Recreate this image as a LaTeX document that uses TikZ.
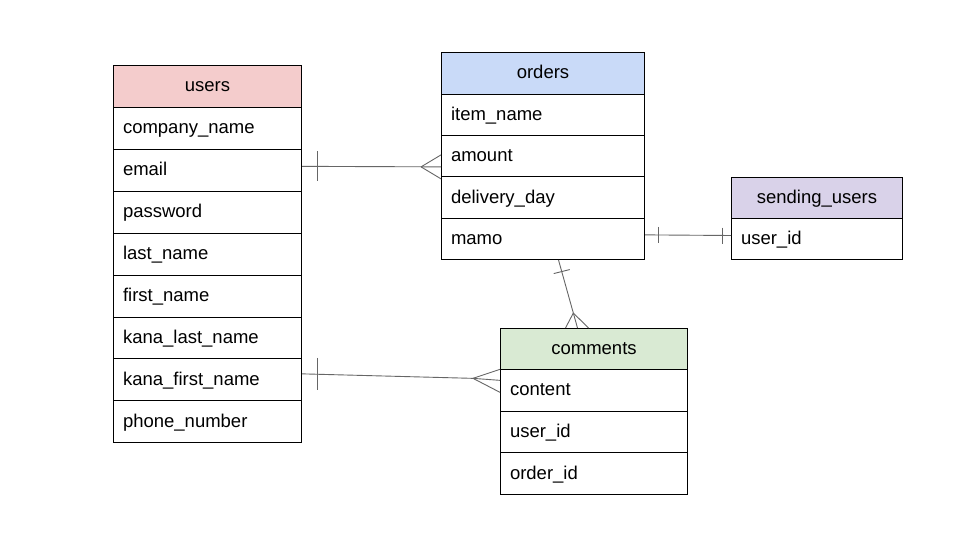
\documentclass[tikz,border=0pt]{standalone}
\usepackage{fontspec}
\setmainfont{Liberation Sans}
\usetikzlibrary{calc}
\definecolor{hred}{HTML}{F4CCCC}
\definecolor{hblue}{HTML}{C9DAF8}
\definecolor{hpurple}{HTML}{D9D2E9}
\definecolor{hgreen}{HTML}{D9EAD3}
\definecolor{conncol}{HTML}{666666}
\begin{document}
\begin{tikzpicture}[x=1pt,y=-1pt,
  font=\fontsize{18.5}{22}\selectfont,
  hdr/.style={draw=black,line width=1pt,anchor=north west,minimum height=#1,inner sep=0pt,text height=14pt,text depth=3pt},
  cell/.style={draw=black,line width=1pt,anchor=north west,minimum height=#1,inner xsep=9.5pt,inner ysep=0pt,align=left,text height=14pt,text depth=3pt},
  conn/.style={draw=conncol,line width=0.9pt}]
\useasboundingbox[fill=white] (0,0) rectangle (960,540);
% users
\node[hdr=42pt,fill=hred,minimum width=188pt] (users) at (113,65) {users};
\foreach \t [count=\i] in {company\_name,email,password,last\_name,first\_name,kana\_last\_name,kana\_first\_name,phone\_number}{
  \node[cell=41.9pt,text width=169pt] (users-\i) at (113,65+42+41.9*\i-41.9) {\t};
}
% orders
\node[hdr=42pt,fill=hblue,minimum width=203pt] (orders) at (441,52) {orders};
\foreach \t [count=\i] in {item\_name,amount,delivery\_day,mamo}{
  \node[cell=41.25pt,text width=184pt] (orders-\i) at (441,52+42+41.25*\i-41.25) {\t};
}
% sending_users
\node[hdr=41pt,fill=hpurple,minimum width=171pt] (sending) at (731,177) {sending\_users};
\node[cell=41pt,text width=152pt] (sending-1) at (731,218) {user\_id};
% comments
\node[hdr=41pt,fill=hgreen,minimum width=187pt] (comments) at (500,328) {comments};
\foreach \t [count=\i] in {content,user\_id,order\_id}{
  \node[cell=41.7pt,text width=168pt] (comments-\i) at (500,369+41.7*\i-41.7) {\t};
}
% users -- orders
\coordinate (uo1) at ([yshift=4pt]users-2.east);
\coordinate (uo2) at ([yshift=-10.5pt]orders-2.west);
\draw[conn] (uo1) -- (uo2);
\draw[conn] ([xshift=15pt,yshift=15pt]uo1) -- ([xshift=15pt,yshift=-15pt]uo1);
\draw[conn] ([xshift=-20pt]uo2) -- ([yshift=12pt]uo2);
\draw[conn] ([xshift=-20pt]uo2) -- ([yshift=-12pt]uo2);
% orders -- sending_users
\coordinate (os1) at ([yshift=4pt]orders-4.east);
\coordinate (os2) at ([yshift=3.5pt]sending-1.west);
\draw[conn] (os1) -- (os2);
\draw[conn] ([xshift=13pt,yshift=8pt]os1) -- ([xshift=13pt,yshift=-8pt]os1);
\draw[conn] ([xshift=-9pt,yshift=8pt]os2) -- ([xshift=-9pt,yshift=-8pt]os2);
% orders -- comments
\coordinate (oc1) at ([xshift=15.5pt]orders-4.south);
\coordinate (oc2) at ([xshift=-16.5pt]comments.north);
\coordinate (ocf) at ($(oc1)!0.78!(oc2)$);
\draw[conn] (oc1) -- (oc2);
\draw[conn] (ocf) -- ([xshift=-12pt]oc2);
\draw[conn] (ocf) -- ([xshift=11pt]oc2);
\coordinate (ocb) at ($(oc1)!0.17!(oc2)$);
\draw[conn] ([xshift=-8pt,yshift=-2pt]ocb) -- ([xshift=8pt,yshift=2pt]ocb);
% users -- comments
\coordinate (uc1) at ([yshift=6pt]users-7.east);
\coordinate (uc2) at ([yshift=10pt]comments-1.west);
\coordinate (ucf) at ([xshift=-27pt,yshift=2pt]uc2);
\draw[conn] (uc1) -- (ucf) -- (uc2);
\draw[conn] ([xshift=15pt,yshift=16pt]uc1) -- ([xshift=15pt,yshift=-16pt]uc1);
\draw[conn] (ucf) -- ([yshift=11pt]uc2);
\draw[conn] (ucf) -- ([yshift=-12pt]uc2);
\end{tikzpicture}
\end{document}
